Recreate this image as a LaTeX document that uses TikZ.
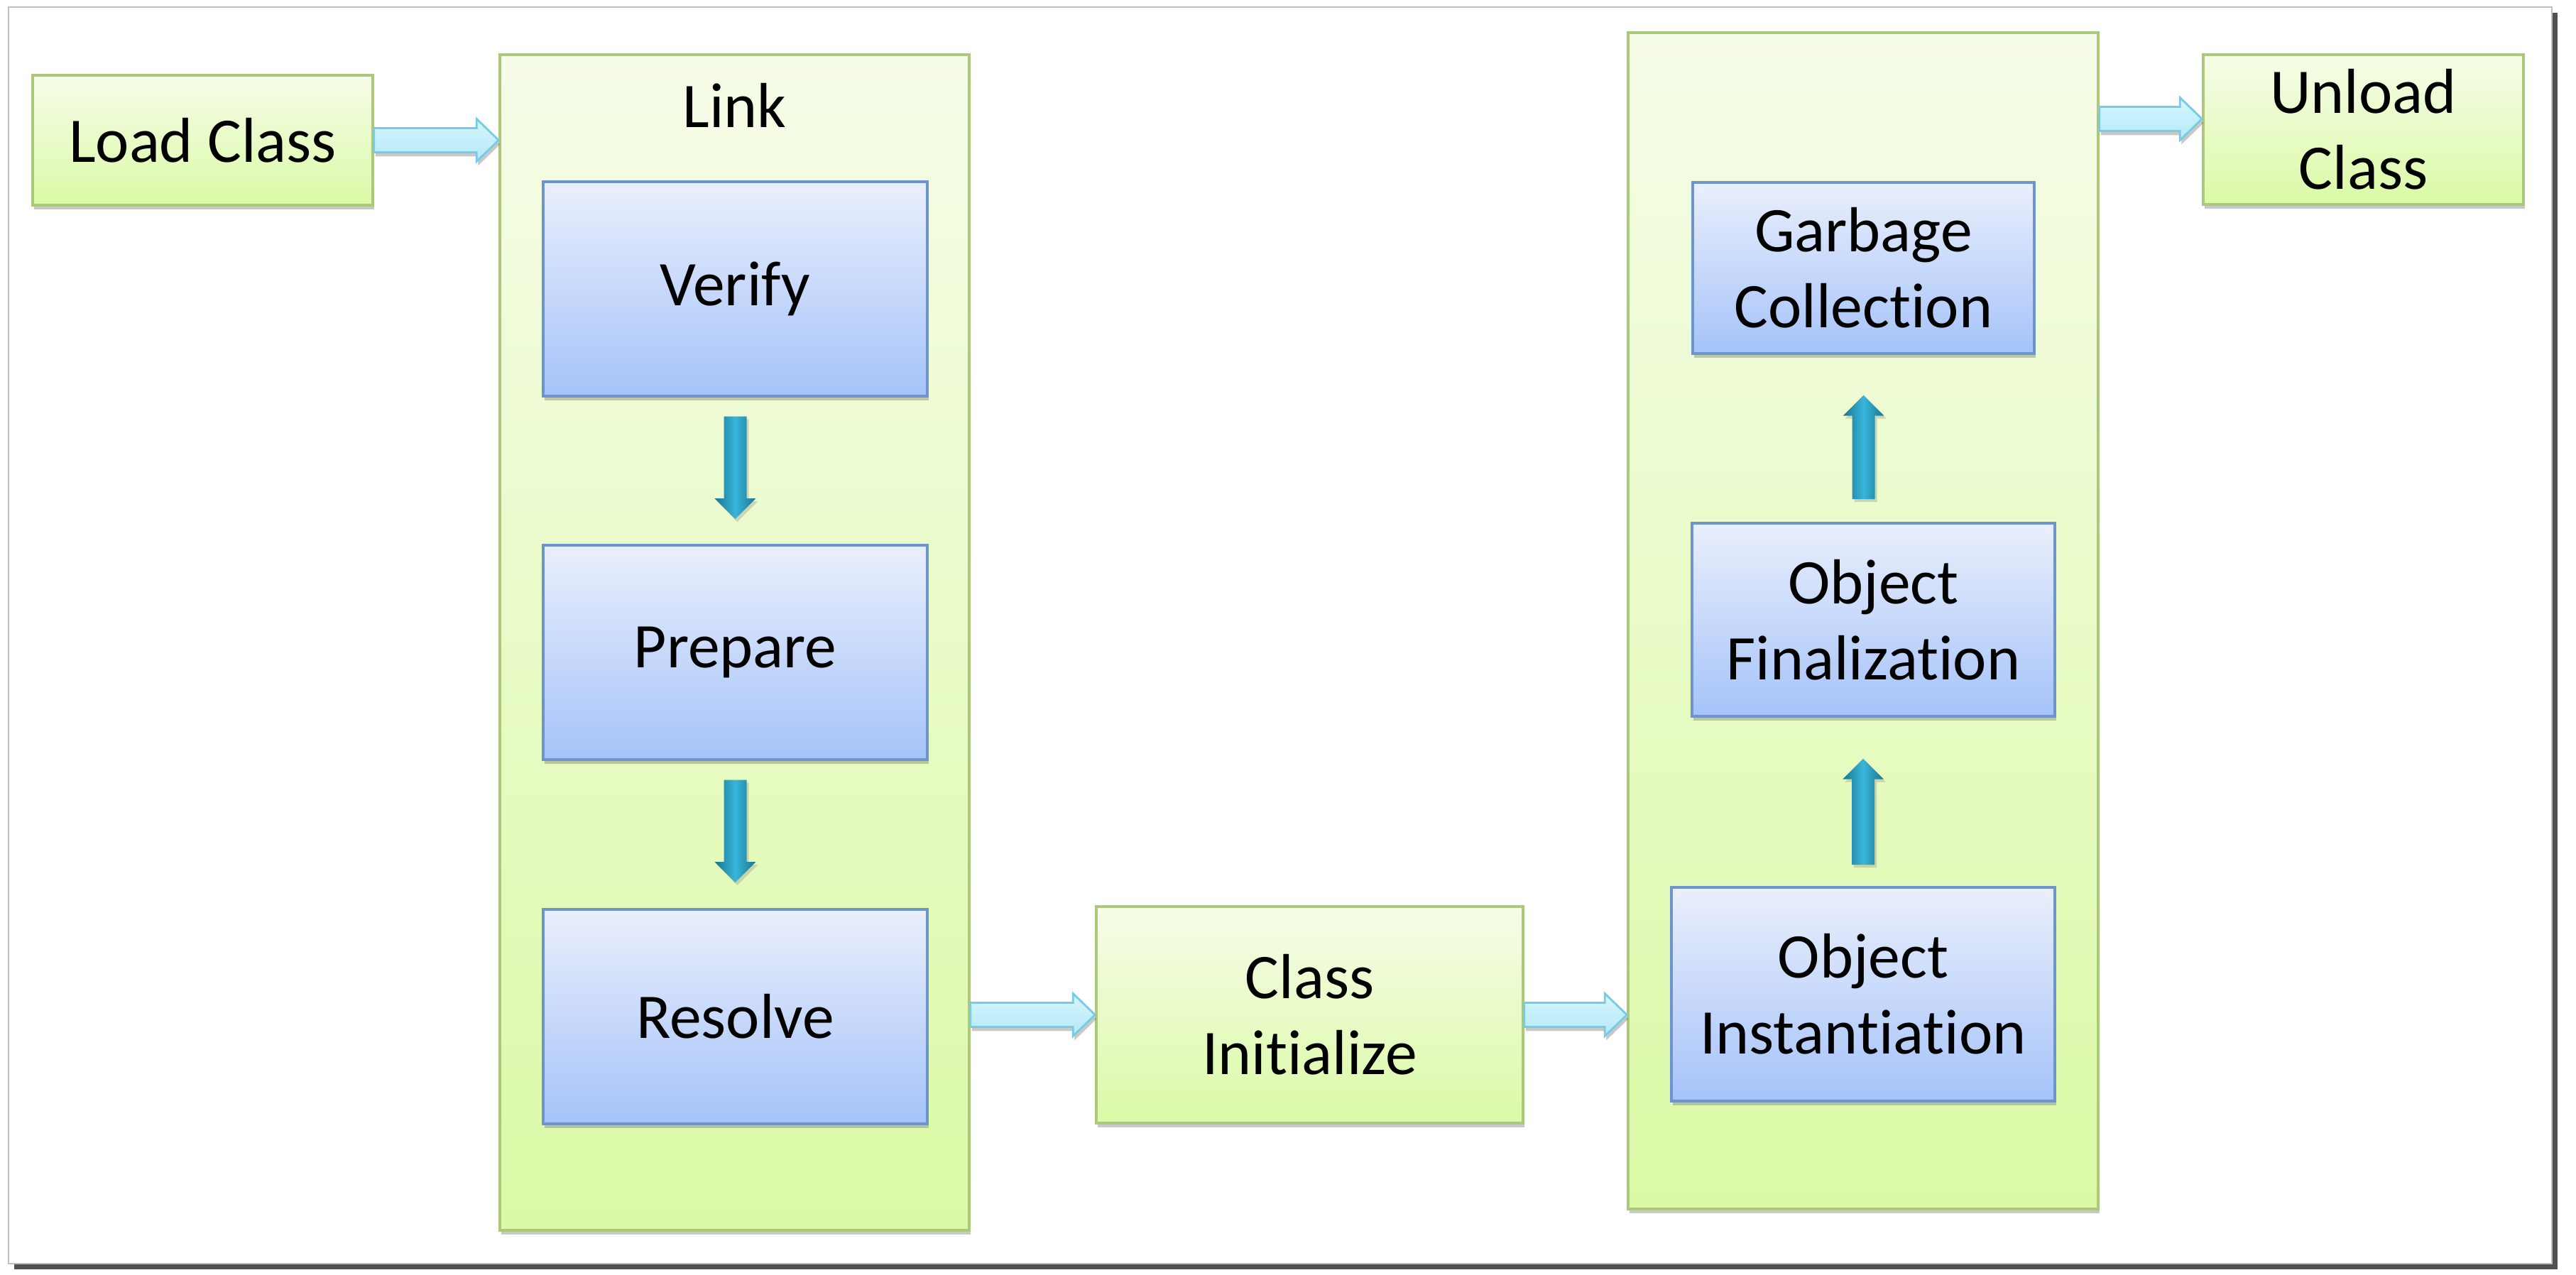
\documentclass[tikz,border=0pt]{standalone}
\usepackage{fontspec}
\setmainfont[Ligatures=NoCommon]{Carlito}
\usetikzlibrary{shadows,calc}

\definecolor{greentop}{RGB}{246,252,232}
\definecolor{greenbot}{RGB}{219,250,166}
\definecolor{greenedge}{RGB}{172,200,124}
\definecolor{bluetop}{RGB}{234,239,252}
\definecolor{bluebot}{RGB}{165,195,249}
\definecolor{blueedge}{RGB}{110,148,206}
\definecolor{flowtop}{RGB}{214,246,253}
\definecolor{flowbot}{RGB}{180,233,247}
\definecolor{flowedge}{RGB}{118,204,228}
\definecolor{stepdark}{RGB}{26,116,146}
\definecolor{steplight}{RGB}{56,182,218}

\newcommand{\boxfont}{\fontsize{25.5}{30.5}\selectfont}

\tikzset{
  softshadow/.style={drop shadow={shadow xshift=0.02cm,shadow yshift=-0.06cm,opacity=0.3,fill=black!70}},
  greenbox/.style={draw=greenedge,line width=1pt,top color=greentop,bottom color=greenbot,
    softshadow,inner sep=0pt,align=center,font=\boxfont},
  bluebox/.style={draw=blueedge,line width=1pt,top color=bluetop,bottom color=bluebot,
    softshadow,inner sep=0pt,align=center,font=\boxfont},
  flowfill/.style={draw=flowedge,line width=0.8pt,top color=flowtop,bottom color=flowbot,softshadow},
  stepfill/.style={left color=stepdark,right color=stepdark,middle color=steplight,
    drop shadow={shadow xshift=0.03cm,shadow yshift=-0.04cm,opacity=0.3}},
  framebox/.style={draw=black!25,fill=white,line width=0.8pt,
    drop shadow={shadow xshift=0.08cm,shadow yshift=-0.08cm,opacity=0.85,fill=black!80}}
}

\newcommand{\flowarrow}[2]{%
  \path[flowfill] let \p1=#1, \p2=#2 in
    (\x1,\y1+0.17cm) -- (\x2-0.31cm,\y1+0.17cm) -- (\x2-0.31cm,\y1+0.30cm) -- (\x2,\y1)
    -- (\x2-0.31cm,\y1-0.30cm) -- (\x2-0.31cm,\y1-0.17cm) -- (\x1,\y1-0.17cm) -- cycle;}
\newcommand{\dropstep}[2]{%
  \path[stepfill] let \p1=#1, \p2=#2 in
    (\x1-0.16cm,\y1) -- (\x1-0.16cm,\y2+0.29cm) -- (\x1-0.29cm,\y2+0.29cm) -- (\x1,\y2)
    -- (\x1+0.29cm,\y2+0.29cm) -- (\x1+0.16cm,\y2+0.29cm) -- (\x1+0.16cm,\y1) -- cycle;}
\newcommand{\risestep}[2]{%
  \path[stepfill] let \p1=#1, \p2=#2 in
    (\x1-0.16cm,\y1) -- (\x1-0.16cm,\y2-0.29cm) -- (\x1-0.29cm,\y2-0.29cm) -- (\x1,\y2)
    -- (\x1+0.29cm,\y2-0.29cm) -- (\x1+0.16cm,\y2-0.29cm) -- (\x1+0.16cm,\y1) -- cycle;}

\begin{document}
\begin{tikzpicture}
            \useasboundingbox (0,0) rectangle (36.28,17.96);
            \draw [framebox] (0.12,0.16) rectangle (35.94,17.86);

            \node [greenbox,minimum width=4.79cm,minimum height=1.83cm] (load) at (2.855,15.985) {Load Class};
            \node [greenbox,minimum width=6.61cm,minimum height=16.56cm] (link) at (10.345,8.91) {};
            \node [font=\boxfont,anchor=base] (linktitle) at (10.345,16.16) {Link};
            \node [bluebox,minimum width=5.41cm,minimum height=3.02cm] (verify) at (10.355,13.89) {Verify};
            \node [bluebox,minimum width=5.41cm,minimum height=3.02cm] (prepare) at (10.355,8.77) {Prepare};
            \node [bluebox,minimum width=5.41cm,minimum height=3.02cm] (resolve) at (10.355,3.64) {Resolve};

            \node [greenbox,minimum width=6.01cm,minimum height=3.05cm] (init) at (18.445,3.665) {Class\\Initialize};

            \node [greenbox,minimum width=6.62cm,minimum height=16.57cm] (objlife) at (26.24,9.215) {};
            \node [bluebox,minimum width=4.81cm,minimum height=2.41cm] (gc) at (26.245,14.185) {Garbage\\Collection};
            \node [bluebox,minimum width=5.11cm,minimum height=2.72cm] (objfin) at (26.385,9.23) {Object\\Finalization};
            \node [bluebox,minimum width=5.40cm,minimum height=3.01cm] (objinst) at (26.24,3.955) {Object\\Instantiation};

            \node [greenbox,minimum width=4.51cm,minimum height=2.11cm] (unload) at (33.285,16.135) {Unload\\Class};

            \flowarrow{(load.east)}{(link.west |- load)}
            \flowarrow{(link.east |- init)}{(init.west)}
            \flowarrow{(init.east)}{(objlife.west |- init)}
            \flowarrow{($(objlife.east |- unload)+(0,0.15)$)}{($(unload.west)+(0,0.15)$)}

            \dropstep{($(verify.south)+(0,-0.27)$)}{($(prepare.north)+(0,0.35)$)}
            \dropstep{($(prepare.south)+(0,-0.27)$)}{($(resolve.north)+(0,0.36)$)}
            \risestep{($(objinst.north)+(0,0.30)$)}{($(objfin.south)+(0,-0.58)$)}
            \risestep{($(gc.south |- objfin.north)+(0,0.32)$)}{($(gc.south)+(0,-0.57)$)}
        \end{tikzpicture}
\end{document}
